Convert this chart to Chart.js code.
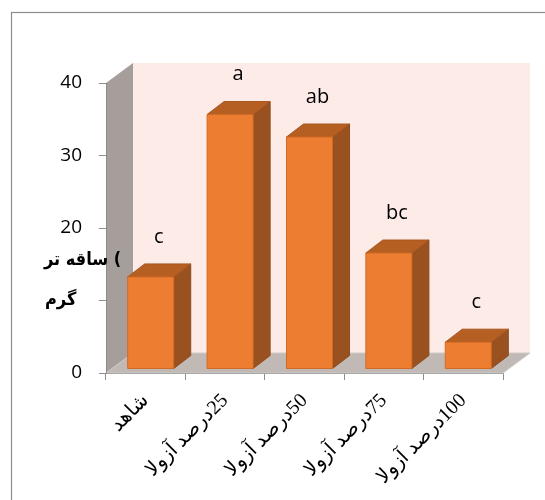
<!DOCTYPE html>
<html>
<head>
<meta charset="utf-8">
<script src="https://cdn.jsdelivr.net/npm/chart.js@4.4.1/dist/chart.umd.min.js"></script>
<style>
  html, body { margin: 0; padding: 0; background: #fff; }
  #wrap { width: 545px; height: 500px; }
</style>
</head>
<body>
<div id="wrap"><canvas id="c" width="545" height="500"></canvas></div>
<script>
// Stem fresh weight per Azolla treatment
const categories = ['شاهد', '25درصد آزولا', '50درصد آزولا', '75درصد آزولا', '100درصد آزولا'];
const stemFreshWeight = [12.7, 35.1, 32.0, 16.0, 3.7];
const groupLetters = ['c', 'a', 'ab', 'bc', 'c'];
const yTicks = [0, 10, 20, 30, 40];
const yTitleLines = ['ساقه تر (', 'گرم'];

// 3D look: depth of the plot box, and of the bars standing inside it
const WALL = { dx: 27, dy: -20 };
const BAR_SHIFT = { dx: 5, dy: -4 };
const BAR_DEPTH = { dx: 17, dy: -13 };

function poly(ctx, pts, fill, stroke) {
  ctx.beginPath();
  ctx.moveTo(pts[0][0], pts[0][1]);
  for (let i = 1; i < pts.length; i++) ctx.lineTo(pts[i][0], pts[i][1]);
  ctx.closePath();
  ctx.fillStyle = fill;
  ctx.fill();
  if (stroke) { ctx.strokeStyle = stroke; ctx.lineWidth = 1; ctx.stroke(); }
}

const box3d = {
  id: 'box3d',
  beforeDraw(chart) {
    const { ctx, chartArea: a } = chart;
    ctx.save();
    ctx.fillStyle = '#ffffff';
    ctx.fillRect(0, 0, chart.width, chart.height);
    // outer frame
    ctx.strokeStyle = '#8c8c8c';
    ctx.lineWidth = 1.2;
    ctx.strokeRect(11.5, 12.5, chart.width + 20, chart.height + 20);
    const L = a.left, R = a.right, T = a.top, B = a.bottom;
    // back wall
    poly(ctx, [[L + WALL.dx, T + WALL.dy], [R + WALL.dx, T + WALL.dy], [R + WALL.dx, B + WALL.dy], [L + WALL.dx, B + WALL.dy]], '#FDEBE7');
    // side wall
    poly(ctx, [[L, T], [L + WALL.dx, T + WALL.dy], [L + WALL.dx, B + WALL.dy], [L, B]], '#A59E9B');
    // floor
    poly(ctx, [[L, B], [R, B], [R + WALL.dx, B + WALL.dy], [L + WALL.dx, B + WALL.dy]], '#C0B9B5', '#D0CAC7');
    ctx.restore();
  },
  beforeDatasetDraw() {
    return false;
  },
  afterDatasetsDraw(chart) {
    const { ctx } = chart;
    const meta = chart.getDatasetMeta(0);
    ctx.save();
    meta.data.forEach((bar, i) => {
      const p = bar.getProps(['x', 'y', 'base', 'width'], true);
      const x0 = p.x - p.width / 2 + BAR_SHIFT.dx;
      const x1 = p.x + p.width / 2 + BAR_SHIFT.dx;
      const yt = p.y + BAR_SHIFT.dy;
      const yb = p.base + BAR_SHIFT.dy;
      const dx = BAR_DEPTH.dx, dy = BAR_DEPTH.dy;
      // side face
      poly(ctx, [[x1, yt], [x1 + dx, yt + dy], [x1 + dx, yb + dy], [x1, yb]], '#9A5120', '#8E4B1D');
      // top face
      poly(ctx, [[x0, yt], [x1, yt], [x1 + dx, yt + dy], [x0 + dx, yt + dy]], '#B65F23', '#A9561F');
      // front face
      poly(ctx, [[x0, yt], [x1, yt], [x1, yb], [x0, yb]], '#ED7D31', '#D06A25');

      // significance letter above the bar
      ctx.fillStyle = '#000';
      ctx.font = '20px "Open Sans"';
      ctx.textAlign = 'center';
      ctx.textBaseline = 'middle';
      ctx.fillText(groupLetters[i], (x0 + x1) / 2 + 8, yt - 40);
    });
    ctx.restore();
  },
  afterDraw(chart) {
    const { ctx } = chart;
    ctx.save();
    // axis title, drawn over the tick column
    ctx.font = 'bold 18px "DejaVu Sans Condensed", "DejaVu Sans"';
    ctx.textAlign = 'left';
    ctx.textBaseline = 'middle';
    ctx.fillStyle = '#ffffff';
    ctx.fillRect(42, 288, 44, 24);
    ctx.fillStyle = '#000';
    ctx.fillText(yTitleLines[0], 44, 260);
    ctx.fillText(yTitleLines[1], 45, 300);
    ctx.restore();
  }
};

new Chart(document.getElementById('c'), {
  type: 'bar',
  data: {
    labels: categories,
    datasets: [{
      data: stemFreshWeight,
      backgroundColor: '#ED7D31',
      barPercentage: 0.58,
      categoryPercentage: 1
    }]
  },
  options: {
    responsive: false,
    animation: false,
    devicePixelRatio: 1,
    layout: { padding: { left: 0, right: 42, top: 83, bottom: 0 } },
    plugins: { legend: { display: false }, tooltip: { enabled: false } },
    scales: {
      x: {
        grid: { display: true, drawOnChartArea: false, tickLength: 7, color: '#8c8c8c', offset: true },
        border: { display: true, color: '#a8a8a8' },
        ticks: {
          minRotation: 45,
          maxRotation: 45,
          autoSkip: false,
          padding: 9,
          color: '#000',
          font: { family: '"Liberation Serif", "DejaVu Sans"', size: 20 },
          callback: (v, i) => '\u2067' + categories[i] + '\u2069'
        },
        afterFit: s => { s.height = 127; }
      },
      y: {
        min: 0,
        max: 40,
        afterBuildTicks: s => { s.ticks = yTicks.map(v => ({ value: v })); },
        grid: { display: true, drawOnChartArea: false, tickLength: 7, color: '#8c8c8c' },
        border: { display: true, color: '#8c8c8c' },
        ticks: {
          padding: 17,
          color: '#000',
          font: { family: '"Open Sans"', size: 19 }
        },
        afterFit: s => { s.width = 106; }
      }
    }
  },
  plugins: [box3d]
});
</script>
</body>
</html>
